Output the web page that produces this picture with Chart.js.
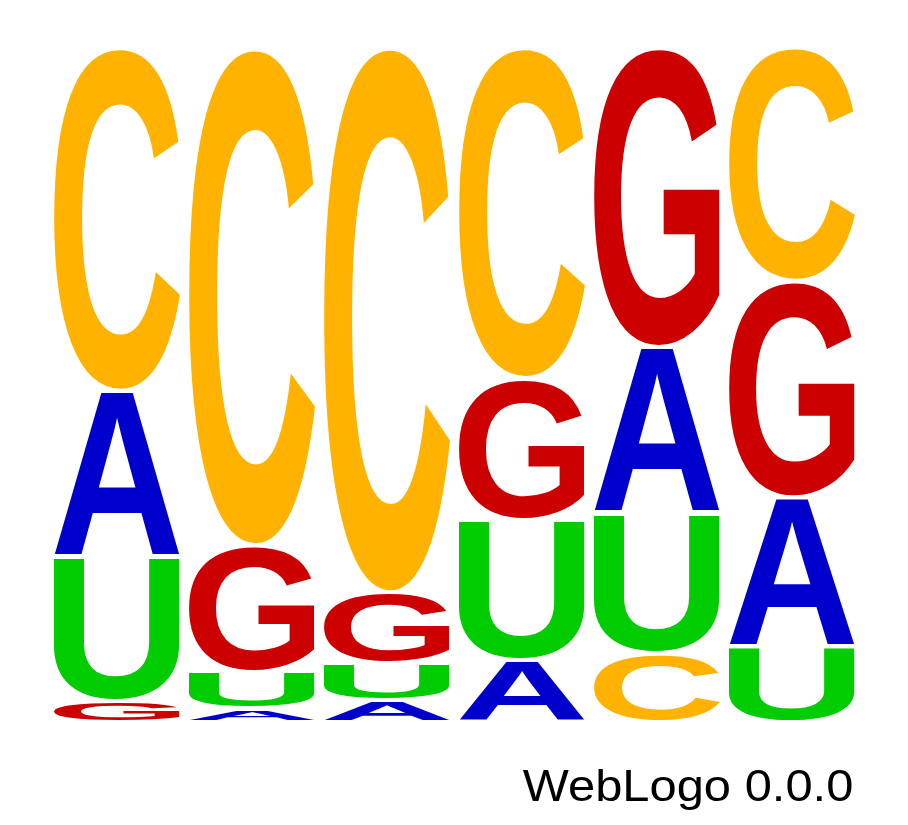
<!DOCTYPE html>
<html>
<head>
<meta charset="utf-8">
<script src="https://cdn.jsdelivr.net/npm/chart.js@4.4.1/dist/chart.umd.min.js"></script>
<style>
  html, body { margin: 0; padding: 0; background: #fff; }
  #wrap { width: 908px; height: 825px; position: relative; }
</style>
</head>
<body>
<div id="wrap"><canvas id="logo"></canvas></div>
<script>
// positions along the sequence
const positions = ['1', '2', '3', '4', '5', '6'];
// probability of each base at each position
const probA = [0.246, 0.020, 0.032, 0.092, 0.247, 0.222];
const probC = [0.509, 0.737, 0.808, 0.490, 0.102, 0.347];
const probG = [0.031, 0.187, 0.105, 0.210, 0.444, 0.321];
const probU = [0.214, 0.055, 0.055, 0.208, 0.207, 0.111];
const letters = ['A', 'C', 'G', 'U'];
const letterColors = { A: '#0000cc', C: '#ffb300', G: '#cc0000', U: '#00cc00' };
const footerText = 'WebLogo 0.0.0';

const probs = { A: probA, C: probC, G: probG, U: probU };

// each column is stacked smallest at the bottom, so build datasets by rank
const ranked = positions.map((p, i) =>
    letters.map(l => ({ letter: l, value: probs[l][i] }))
        .sort((a, b) => a.value - b.value)
);
const datasets = [0, 1, 2, 3].map(r => ({
    label: 'rank ' + r,
    data: ranked.map(col => col[r].value),
    letters: ranked.map(col => col[r].letter),
    backgroundColor: 'rgba(0,0,0,0)',
    borderWidth: 0,
    barPercentage: 0.933,
    categoryPercentage: 1.0,
}));

const glyphFont = 'bold 200px "Liberation Sans", Arial, sans-serif';

const glyphPlugin = {
    id: 'glyphs',
    afterDatasetsDraw(chart) {
        const ctx = chart.ctx;
        ctx.save();
        ctx.font = glyphFont;
        ctx.textAlign = 'left';
        ctx.textBaseline = 'alphabetic';
        chart.data.datasets.forEach((ds, di) => {
            const meta = chart.getDatasetMeta(di);
            meta.data.forEach((bar, i) => {
                const { x, y, base, width } = bar.getProps(['x', 'y', 'base', 'width'], true);
                const ch = ds.letters[i];
                const top = Math.min(y, base) + 2;
                const bottom = Math.max(y, base) - 2;
                const h = bottom - top;
                if (h <= 0.5) return;
                const m = ctx.measureText(ch);
                const bw = m.actualBoundingBoxLeft + m.actualBoundingBoxRight;
                const bh = m.actualBoundingBoxAscent + m.actualBoundingBoxDescent;
                ctx.save();
                ctx.translate(x - width / 2, top);
                ctx.scale(width / bw, h / bh);
                ctx.fillStyle = letterColors[ch];
                ctx.fillText(ch, m.actualBoundingBoxLeft, m.actualBoundingBoxAscent);
                ctx.restore();
            });
        });
        // footer line
        ctx.font = '44px "Liberation Sans", Arial, sans-serif';
        ctx.fillStyle = '#000';
        const fm = ctx.measureText(footerText);
        const fw = fm.actualBoundingBoxLeft + fm.actualBoundingBoxRight;
        ctx.translate(522.7, 800.5);
        ctx.scale(329 / fw, 1);
        ctx.fillText(footerText, fm.actualBoundingBoxLeft, 0);
        ctx.restore();
    }
};

new Chart(document.getElementById('logo'), {
    type: 'bar',
    data: { labels: positions, datasets },
    options: {
        responsive: true,
        maintainAspectRatio: false,
        animation: false,
        layout: { padding: { left: 49.5, right: 48.5, top: 47.5, bottom: 103 } },
        plugins: { legend: { display: false }, tooltip: { enabled: false }, title: { display: false } },
        scales: {
            x: { stacked: true, display: false },
            y: { stacked: true, display: false, min: 0, max: 1 }
        }
    },
    plugins: [glyphPlugin]
});
</script>
</body>
</html>
